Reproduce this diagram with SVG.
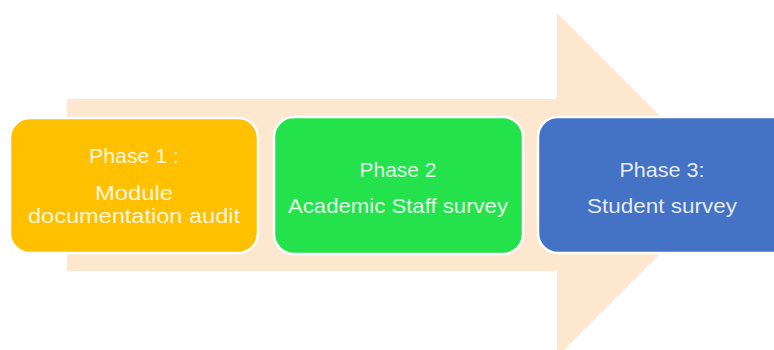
<svg xmlns="http://www.w3.org/2000/svg" width="774" height="350" viewBox="0 0 774 350">
<style>
.box{stroke:#ffffff;stroke-width:2.5}
.t{font-family:"Liberation Sans",Arial,sans-serif;font-size:21px;fill:#ffffff;fill-opacity:0.88;text-anchor:middle}
</style>
<rect width="774" height="350" fill="#ffffff"/>
<g id="arrow">
<polygon points="67,99 557,99 557,13 729,185 557,357 557,271 67,271" fill="#FDE7CF"/>
</g>
<g id="connectors"></g>
<g id="phase1">
<rect class="box" x="10" y="118" width="248" height="135" rx="20" fill="#FFC000"/>
<text class="t" x="134" y="163" textLength="90" lengthAdjust="spacingAndGlyphs">Phase 1 :</text>
<text class="t" x="134" y="200" textLength="78" lengthAdjust="spacingAndGlyphs">Module</text>
<text class="t" x="134" y="223" textLength="212" lengthAdjust="spacingAndGlyphs">documentation audit</text>
</g>
<g id="phase2">
<rect class="box" x="274" y="117" width="249" height="137" rx="20" fill="#24E24B"/>
<text class="t" x="398" y="177" textLength="77" lengthAdjust="spacingAndGlyphs">Phase 2</text>
<text class="t" x="398" y="213" textLength="220" lengthAdjust="spacingAndGlyphs">Academic Staff survey</text>
</g>
<g id="phase3">
<rect class="box" x="538" y="117" width="260" height="136" rx="20" fill="#4472C4"/>
<text class="t" x="662" y="177" textLength="85" lengthAdjust="spacingAndGlyphs">Phase 3:</text>
<text class="t" x="662" y="213" textLength="150" lengthAdjust="spacingAndGlyphs">Student survey</text>
</g>
</svg>
